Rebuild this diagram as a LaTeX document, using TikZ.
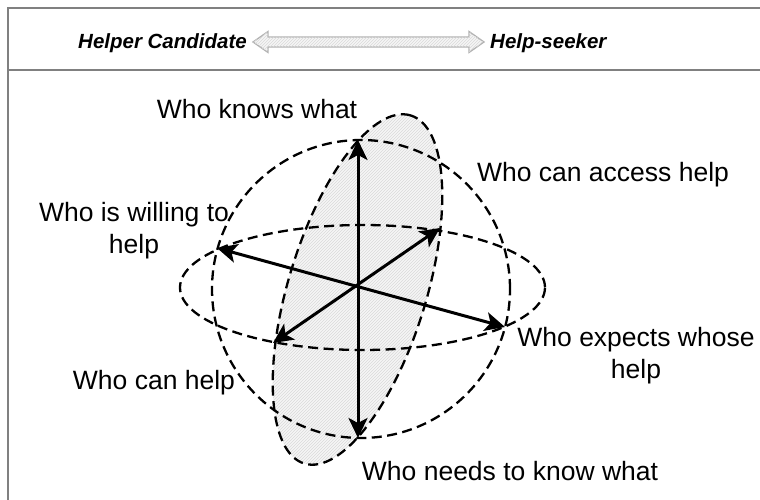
\documentclass[tikz,border=0pt]{standalone}
\usepackage{fontspec}
\setmainfont{Liberation Sans}
\usepackage{tikz}
\usetikzlibrary{arrows.meta, patterns}

\begin{document}
\begin{tikzpicture}[
    x=1pt, y=1pt,
    frame/.style={draw=gray, line width=2pt},
    hatch/.style={
        fill=gray!7,
        postaction={pattern=north east lines, pattern color=gray!30}
    },
    orbit/.style={dashed, dash pattern=on 10pt off 5.5pt, line width=2.3pt},
    arrow/.style={
        {Stealth[length=20pt, width=19pt, inset=5pt]}-{Stealth[length=20pt, width=19pt, inset=5pt]},
        line width=3pt
    },
    label/.style={inner sep=0pt, font=\fontsize{26.5}{32}\selectfont, align=center},
    head/.style={inner sep=0pt, font=\fontsize{20.5}{23}\selectfont\bfseries\itshape}
]

\useasboundingbox (0,0) rectangle (760,500);

\draw[frame] (8,0) -- (8,492) -- (760,492);
\draw[frame] (8,430) -- (760,430);

\node[head, anchor=base east] (cand) at (247,451) {Helper Candidate};
\node[head, anchor=base west] (seek) at (490,451) {Help-seeker};
\draw[hatch, draw=gray!60, line width=1.3pt]
    (253,458) -- (268,468.5) -- (268,463) -- (469,463) -- (469,468.5) -- (484,458)
    -- (469,447.5) -- (469,453) -- (268,453) -- (268,447.5) -- cycle;

\draw[hatch, draw=none] (357.5,210.5) ellipse [x radius=182, y radius=69, rotate=73];
\draw[orbit] (357.5,210.5) ellipse [x radius=182, y radius=69, rotate=73];
\draw[orbit] (361,211) circle [radius=149];
\draw[orbit] (362.5,212.5) ellipse [x radius=182.5, y radius=62.5];

\coordinate (hub) at (358,212);
\coordinate (knows) at (358,360);
\coordinate (needs) at (358,62);
\coordinate (willing) at (217,252);
\coordinate (expects) at (505,173);
\coordinate (access) at (440,272);
\coordinate (can) at (273,157);

\draw[arrow] (knows) -- (needs);
\draw[arrow] (willing) -- (expects);
\draw[arrow] (access) -- (can);

\node[label, anchor=base] (knowslbl) at (257,381) {Who knows what};
\node[label, anchor=base] (accesslbl) at (603,318) {Who can access help};
\node[label, anchor=north] (willinglbl) at (134,298) {Who is willing to\\help};
\node[label, anchor=north] (expectslbl) at (636,173) {Who expects whose\\help};
\node[label, anchor=base] (canlbl) at (154,110) {Who can help};
\node[label, anchor=base] (needslbl) at (510,19) {Who needs to know what};

\end{tikzpicture}
\end{document}
